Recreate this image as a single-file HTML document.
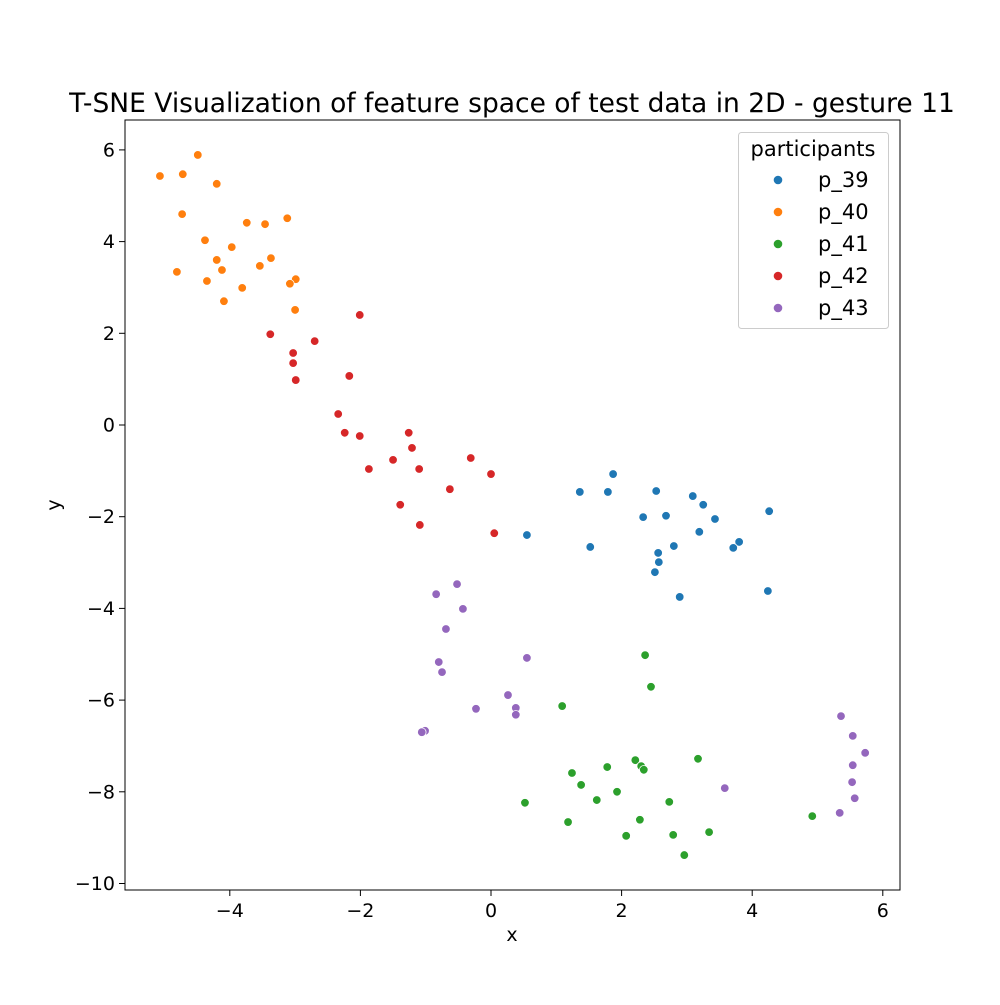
<!DOCTYPE html>
<html><head><meta charset="utf-8"><style>
html,body{margin:0;padding:0;background:#fff;}
svg text{font-family:"DejaVu Sans","Liberation Sans",sans-serif;fill:#000;}
</style></head><body>
<svg id="chart" width="1000" height="1000" viewBox="0 0 1000 1000" xmlns="http://www.w3.org/2000/svg">
<rect width="1000" height="1000" fill="#fff"/>
<text x="512" y="112" font-size="26.5" text-anchor="middle">T-SNE Visualization of feature space of test data in 2D - gesture 11</text>
<g id="axes"></g>
<g id="points"></g>
<rect x="125" y="120" width="775" height="770" fill="none" stroke="#000" stroke-width="1"/>
<text x="512" y="941" font-size="19" text-anchor="middle">x</text>
<text x="60" y="505" font-size="19" text-anchor="middle" transform="rotate(-90 60 505)">y</text>
<g id="legend">
<rect x="738.5" y="132.5" width="150" height="196" rx="3" fill="#fff" fill-opacity="0.8" stroke="#ccc"/>
<text x="813" y="156" font-size="21" text-anchor="middle">participants</text>
</g>
</svg>
<script>
const categories = ["p_39","p_40","p_41","p_42","p_43"];
const colors = ["#1f77b4","#ff7f0e","#2ca02c","#d62728","#9467bd"];
const xTicks = [-4,-2,0,2,4,6];
const yTicks = [6,4,2,0,-2,-4,-6,-8,-10];
const p39x = [0.55,1.36,1.87,1.79,1.52,2.53,2.33,2.68,3.09,3.25,3.19,3.43,2.80,2.56,2.57,2.51,3.80,3.71,4.26,2.89,4.24];
const p39y = [-2.40,-1.46,-1.07,-1.46,-2.66,-1.44,-2.01,-1.98,-1.55,-1.74,-2.33,-2.05,-2.64,-2.79,-2.99,-3.21,-2.55,-2.68,-1.88,-3.75,-3.62];
const p40x = [-5.07,-4.49,-4.72,-4.20,-4.73,-3.74,-3.46,-3.12,-4.38,-3.97,-4.20,-3.37,-3.54,-4.12,-4.81,-4.35,-3.81,-4.09,-2.99,-3.08,-3.00];
const p40y = [5.43,5.89,5.47,5.26,4.60,4.41,4.38,4.51,4.03,3.88,3.60,3.64,3.47,3.38,3.34,3.14,2.99,2.70,3.18,3.08,2.51];
const p41x = [2.36,2.45,1.09,3.17,2.21,2.30,2.34,1.24,1.78,1.38,1.93,1.62,0.52,2.73,1.18,2.28,2.07,2.79,3.34,4.92,2.96];
const p41y = [-5.02,-5.71,-6.13,-7.28,-7.31,-7.44,-7.52,-7.59,-7.46,-7.85,-8.00,-8.18,-8.24,-8.22,-8.66,-8.61,-8.96,-8.94,-8.88,-8.53,-9.38];
const p42x = [-3.38,-2.01,-3.03,-2.70,-3.03,-2.17,-2.99,-2.34,-2.24,-2.01,-1.26,-1.21,-1.50,-1.87,-1.10,-0.31,0.0,-0.63,-1.39,-1.09,0.05];
const p42y = [1.98,2.40,1.57,1.83,1.35,1.07,0.98,0.24,-0.17,-0.24,-0.17,-0.50,-0.76,-0.96,-0.96,-0.72,-1.07,-1.40,-1.74,-2.18,-2.36];
const p43x = [-0.52,-0.84,-0.43,-0.69,0.55,-0.80,-0.75,0.26,-0.23,0.38,0.38,-1.01,-1.06,5.36,5.54,5.73,5.54,5.53,3.58,5.57,5.34];
const p43y = [-3.47,-3.69,-4.01,-4.45,-5.08,-5.17,-5.39,-5.89,-6.19,-6.17,-6.32,-6.67,-6.70,-6.35,-6.78,-7.15,-7.42,-7.79,-7.92,-8.14,-8.46];
const seriesX = [p39x,p40x,p41x,p42x,p43x];
const seriesY = [p39y,p40y,p41y,p42y,p43y];

const NS = "http://www.w3.org/2000/svg";
function sx(v){ return 491 + v*65.3; }
function sy(v){ return 425 - v*45.85; }
function mk(tag, attrs, parent){
  const e = document.createElementNS(NS, tag);
  for (const k in attrs) e.setAttribute(k, attrs[k]);
  parent.appendChild(e);
  return e;
}
const axes = document.getElementById('axes');
xTicks.forEach(t => {
  const x = sx(t);
  const l = mk('line', {x1:x, x2:x, y1:890, y2:896, stroke:'#000'}, axes);
  
  
  const tx = mk('text', {x:x, y:917, 'font-size':19, 'text-anchor':'middle'}, axes);
  tx.textContent = t < 0 ? '\u2212' + Math.abs(t) : String(t);
  
  
});
yTicks.forEach(t => {
  const y = sy(t);
  const l = mk('line', {x1:119, x2:125, y1:y, y2:y, stroke:'#000'}, axes);
  
  
  const tx = mk('text', {x:115, y:y+6.5, 'font-size':19, 'text-anchor':'end'}, axes);
  tx.textContent = t < 0 ? '\u2212' + Math.abs(t) : String(t);
  
  
});
const pts = document.getElementById('points');
seriesX.forEach((xs, si) => {
  xs.forEach((xv, i) => {
    const c = mk('circle', {cx:sx(xv), cy:sy(seriesY[si][i]), r:4.3, fill:colors[si], stroke:'#fff', 'stroke-width':0.8}, pts);
    
    
  });
});
const leg = document.getElementById('legend');
categories.forEach((c, i) => {
  const y = 180 + i*32;
  const m = mk('circle', {cx:778, cy:y, r:4.3, fill:colors[i]}, leg);
  
  
  const t = mk('text', {x:818, y:y+7, 'font-size':21}, leg);
  t.textContent = c;
  
  
});
</script>
</body></html>
